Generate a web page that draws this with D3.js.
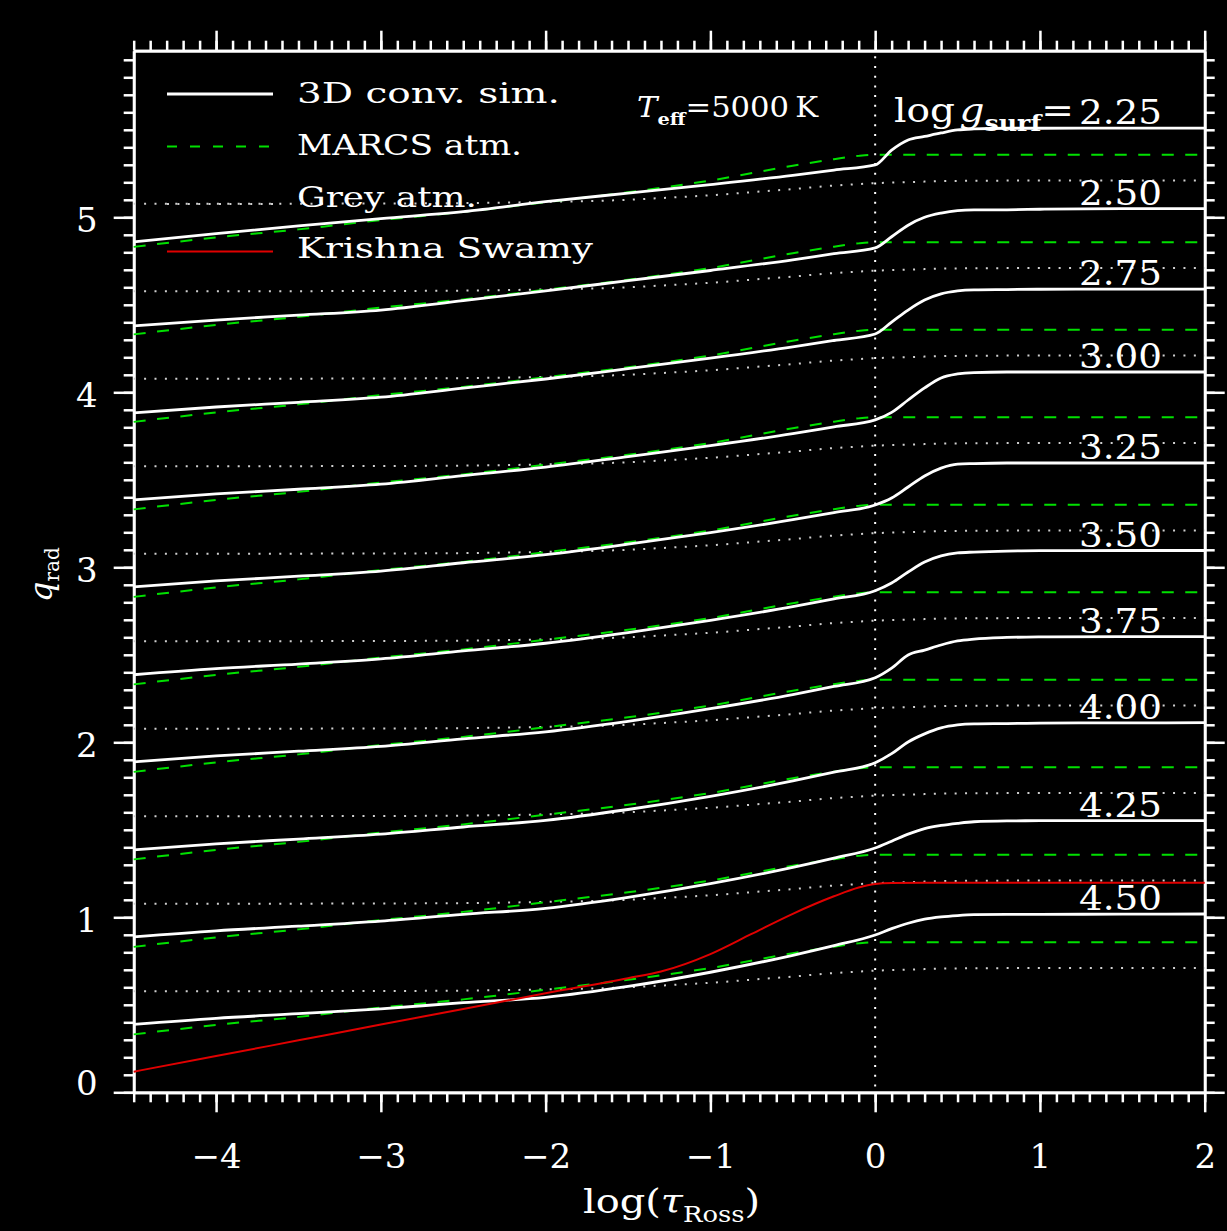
<!DOCTYPE html>
<html>
<head>
<meta charset="utf-8">
<script src="https://cdn.jsdelivr.net/npm/d3@7"></script>
<style>
  body { margin: 0; background: #000; }
  svg { display: block; }
</style>
</head>
<body>
<script>
'use strict';

// log(tau_Ross) grid shared by the 3D curves
const tauSim = [-4.5, -4, -3.5, -3, -2.5, -2, -1.5, -1, -0.5, -0.25, 0, 0.1, 0.2, 0.3, 0.4, 0.5, 0.6, 0.8, 1, 1.5, 2];

// 3D conv. sim. q(tau), before the 0.5 shift between models
const q225 = [0.359, 0.407, 0.451, 0.493, 0.532, 0.589, 0.638, 0.687, 0.740, 0.770, 0.799, 0.884, 0.942, 0.962, 0.982, 0.999, 1.005, 1.009, 1.009, 1.010, 1.010];
const q250 = [0.379, 0.413, 0.441, 0.470, 0.524, 0.579, 0.638, 0.696, 0.757, 0.792, 0.825, 0.889, 0.955, 1.000, 1.024, 1.038, 1.042, 1.043, 1.046, 1.050, 1.050];
const q275 = [0.382, 0.416, 0.443, 0.472, 0.524, 0.576, 0.635, 0.695, 0.760, 0.796, 0.833, 0.901, 0.970, 1.027, 1.062, 1.079, 1.085, 1.087, 1.089, 1.090, 1.090];
const q300 = [0.385, 0.419, 0.446, 0.475, 0.524, 0.573, 0.633, 0.695, 0.764, 0.803, 0.842, 0.885, 0.956, 1.025, 1.082, 1.105, 1.113, 1.116, 1.116, 1.116, 1.116];
const q325 = [0.388, 0.422, 0.449, 0.478, 0.526, 0.572, 0.632, 0.698, 0.772, 0.813, 0.856, 0.896, 0.959, 1.022, 1.067, 1.090, 1.093, 1.096, 1.096, 1.096, 1.096];
const q350 = [0.386, 0.421, 0.447, 0.477, 0.522, 0.566, 0.627, 0.697, 0.775, 0.819, 0.866, 0.910, 0.973, 1.030, 1.065, 1.082, 1.087, 1.093, 1.095, 1.096, 1.096];
const q375 = [0.388, 0.422, 0.449, 0.477, 0.520, 0.560, 0.620, 0.692, 0.773, 0.819, 0.869, 0.924, 0.999, 1.027, 1.056, 1.079, 1.090, 1.099, 1.102, 1.104, 1.104];
const q400 = [0.385, 0.420, 0.447, 0.475, 0.516, 0.554, 0.616, 0.691, 0.779, 0.829, 0.883, 0.935, 1.002, 1.048, 1.082, 1.099, 1.105, 1.107, 1.110, 1.111, 1.112];
const q425 = [0.388, 0.423, 0.449, 0.478, 0.517, 0.551, 0.614, 0.692, 0.785, 0.838, 0.896, 0.935, 0.975, 1.007, 1.025, 1.037, 1.046, 1.051, 1.052, 1.053, 1.053];
const q450 = [0.388, 0.423, 0.449, 0.477, 0.512, 0.543, 0.605, 0.686, 0.783, 0.838, 0.899, 0.935, 0.966, 0.989, 1.002, 1.010, 1.015, 1.017, 1.017, 1.018, 1.019];

// MARCS atm.
const tauMarcs = [-4.5, -4, -3.5, -3, -2.5, -2, -1.5, -1, -0.5, -0.25, -0.1, 0, 0.5, 1, 1.5, 2];
const qMarcs = [0.331, 0.385, 0.431, 0.484, 0.531, 0.586, 0.643, 0.710, 0.795, 0.832, 0.851, 0.857, 0.857, 0.857, 0.857, 0.857];

// grey atm.
const tauGrey = [-4.5, -3, -2.5, -2, -1.5, -1.3, -1, -0.7, -0.5, -0.3, -0.1, 0, 0.2, 0.3, 0.5, 1, 2];
const qGrey = [0.577, 0.579, 0.581, 0.588, 0.600, 0.610, 0.626, 0.647, 0.661, 0.678, 0.690, 0.695, 0.701, 0.704, 0.708, 0.710, 0.710];

// Krishna Swamy (drawn once, not shifted)
const tauKS = [-4.5, -4, -3.5, -3, -2.5, -2, -1.5, -1.3, -1, -0.75, -0.5, -0.25, -0.1, 0, 0.1, 0.3, 2];
const qKS = [0.118, 0.207, 0.297, 0.387, 0.476, 0.566, 0.652, 0.690, 0.790, 0.905, 1.020, 1.120, 1.170, 1.190, 1.196, 1.198, 1.198];

// models, top to bottom
const loggLabels = ["2.25", "2.50", "2.75", "3.00", "3.25", "3.50", "3.75", "4.00", "4.25", "4.50"];
const qShift = [4.5, 4.0, 3.5, 3.0, 2.5, 2.0, 1.5, 1.0, 0.5, 0.0];
const simSeries = [q225, q250, q275, q300, q325, q350, q375, q400, q425, q450];

const xTicks = [-4, -3, -2, -1, 0, 1, 2];
const yTicks = [0, 1, 2, 3, 4, 5];

const FONT = "'DejaVu Serif', serif";

(function () {
  let svg = "";

  window.onload = function () {
    svg = d3.select('body')
      .append('svg')
      .attr('width', 1227)
      .attr('height', 1231)
      .style('background', '#000');

    let map = drawAxes();
    plotData(map);
    makeLegend();
    makeLabels(map);
  }

  // frame, ticks and tick labels
  function drawAxes() {
    let xScale = d3.scaleLinear().domain([-4.5, 2]).range([133.7, 1204.7]);
    let yScale = d3.scaleLinear().domain([0, 5.952]).range([1092.3, 50.7]);

    let xMinor = d3.range(-45, 21).map(i => i / 10);
    let yMinor = d3.range(0, 60).map(i => i / 10);
    let fmt = d3.format('d');

    let bottom = 'translate(0,' + yScale(0) + ')';
    let top = 'translate(0,' + yScale(5.952) + ')';
    let left = 'translate(' + xScale(-4.5) + ',0)';
    let right = 'translate(' + xScale(2) + ',0)';

    let axes = [
      { ax: d3.axisBottom(xScale).tickValues(xTicks).tickSize(20).tickPadding(32).tickFormat(fmt), t: bottom, side: 'x' },
      { ax: d3.axisBottom(xScale).tickValues(xMinor).tickSize(10).tickFormat(''), t: bottom },
      { ax: d3.axisTop(xScale).tickValues(xTicks).tickSize(20).tickFormat(''), t: top },
      { ax: d3.axisTop(xScale).tickValues(xMinor).tickSize(10).tickFormat(''), t: top },
      { ax: d3.axisLeft(yScale).tickValues(yTicks).tickSize(20).tickPadding(16).tickFormat(fmt), t: left, side: 'y' },
      { ax: d3.axisLeft(yScale).tickValues(yMinor).tickSize(10).tickFormat(''), t: left },
      { ax: d3.axisRight(yScale).tickValues(yTicks).tickSize(20).tickFormat(''), t: right },
      { ax: d3.axisRight(yScale).tickValues(yMinor).tickSize(10).tickFormat(''), t: right }
    ];

    axes.forEach(a => {
      let g = svg.append('g')
        .attr('transform', a.t)
        .call(a.ax.tickSizeOuter(0));
      g.select('.domain').attr('stroke', '#fff').attr('stroke-width', 2.7);
      g.selectAll('line').attr('stroke', '#fff').attr('stroke-width', 2.5);
      let txt = g.selectAll('text')
        .attr('fill', '#fff')
        .attr('font-family', FONT)
        .attr('font-size', 34);
      if (a.side === 'y') {
        txt.attr('dy', d => d === 0 ? '0.06em' : '0.42em');
      }
    });

    return { x: xScale, y: yScale };
  }

  function plotData(map) {
    let lineOf = (taus) => d3.line()
      .x((d, i) => map.x(taus[i]))
      .y(d => map.y(d))
      .curve(d3.curveMonotoneX);

    // vertical dotted line at log(tau) = 0
    svg.append('line')
      .attr('x1', map.x(0)).attr('x2', map.x(0))
      .attr('y1', map.y(5.92)).attr('y2', map.y(0))
      .attr('stroke', '#fff')
      .attr('stroke-width', 2)
      .attr('stroke-dasharray', '2,7.7');

    // grey atm.
    qShift.forEach(s => {
      svg.append('path')
        .datum(qGrey.map(v => v + s))
        .attr('d', lineOf(tauGrey))
        .attr('fill', 'none')
        .attr('stroke', '#cfcfcf')
        .attr('stroke-width', 2)
        .attr('stroke-dasharray', '2,8.4');
    });

    // MARCS atm.
    qShift.forEach(s => {
      svg.append('path')
        .datum(qMarcs.map(v => v + s))
        .attr('d', lineOf(tauMarcs))
        .attr('fill', 'none')
        .attr('stroke', '#00e000')
        .attr('stroke-width', 2)
        .attr('stroke-dasharray', '12,11.5');
    });

    // 3D conv. sim.
    simSeries.forEach((q, k) => {
      svg.append('path')
        .datum(q.map(v => v + qShift[k]))
        .attr('d', lineOf(tauSim))
        .attr('fill', 'none')
        .attr('stroke', '#fff')
        .attr('stroke-width', 2.8);
    });

    // Krishna Swamy
    svg.append('path')
      .datum(qKS)
      .attr('d', lineOf(tauKS))
      .attr('fill', 'none')
      .attr('stroke', '#e00000')
      .attr('stroke-width', 2);
  }

  function makeLegend() {
    let items = [
      { name: '3D conv. sim.', color: '#fff', dash: null, w: 2.8, y: 94, base: 103, len: 263 },
      { name: 'MARCS atm.', color: '#00e000', dash: '10,13', w: 2, y: 146.5, base: 155, len: 225 },
      { name: 'Grey atm.', color: '#cfcfcf', dash: '2,8.4', w: 2, y: 204, base: 207, len: 180 },
      { name: 'Krishna Swamy', color: '#e00000', dash: null, w: 2, y: 251.5, base: 258, len: 296 }
    ];
    items.forEach(d => {
      svg.append('line')
        .attr('x1', 167).attr('x2', 273)
        .attr('y1', d.y).attr('y2', d.y)
        .attr('stroke', d.color)
        .attr('stroke-width', d.w)
        .attr('stroke-dasharray', d.dash);
      svg.append('text')
        .attr('x', 297)
        .attr('y', d.base)
        .attr('fill', '#fff')
        .attr('font-family', FONT)
        .attr('font-size', 28)
        .attr('textLength', d.len)
        .attr('lengthAdjust', 'spacingAndGlyphs')
        .text(d.name);
    });
  }

  function makeLabels(map) {
    // model labels above each flat 3D curve
    simSeries.forEach((q, k) => {
      svg.append('text')
        .attr('x', 1162)
        .attr('y', map.y(q[q.length - 1] + qShift[k]) - 4)
        .attr('text-anchor', 'end')
        .attr('fill', '#fff')
        .attr('font-family', FONT)
        .attr('font-size', 34)
        .attr('textLength', 83)
        .attr('lengthAdjust', 'spacingAndGlyphs')
        .text(loggLabels[k]);
    });

    let lg = svg.append('text')
      .attr('x', 894)
      .attr('y', map.y(q225[q225.length - 1] + qShift[0]) - 6)
      .attr('fill', '#fff')
      .attr('font-family', FONT)
      .attr('font-size', 34)
      .attr('textLength', 180)
      .attr('lengthAdjust', 'spacingAndGlyphs');
    lg.append('tspan').text('log');
    lg.append('tspan').attr('font-style', 'italic').attr('dx', 4).text('g');
    lg.append('tspan').attr('font-size', 22).attr('font-weight', 'bold').attr('dy', 9).text('surf');
    lg.append('tspan').attr('dy', -9).text('=');

    // T_eff
    let te = svg.append('text')
      .attr('x', 637)
      .attr('y', 117)
      .attr('fill', '#fff')
      .attr('font-family', FONT)
      .attr('font-size', 27)
      .attr('textLength', 181)
      .attr('lengthAdjust', 'spacingAndGlyphs');
    te.append('tspan').attr('font-style', 'italic').text('T');
    te.append('tspan').attr('font-size', 17).attr('font-weight', 'bold').attr('dy', 8).text('eff');
    te.append('tspan').attr('dy', -8).text('=5000\u2009K');

    // x axis title
    let xt = svg.append('text')
      .attr('x', 583)
      .attr('y', 1213)
      .attr('fill', '#fff')
      .attr('font-family', FONT)
      .attr('font-size', 34)
      .attr('textLength', 177)
      .attr('lengthAdjust', 'spacingAndGlyphs');
    xt.append('tspan').text('log(');
    xt.append('tspan').attr('font-style', 'italic').text('\u03c4');
    xt.append('tspan').attr('font-size', 22).attr('dy', 9).text('Ross');
    xt.append('tspan').attr('dy', -9).text(')');

    // y axis title
    let yt = svg.append('text')
      .attr('transform', 'translate(52, 602)rotate(-90)')
      .attr('fill', '#fff')
      .attr('font-family', FONT)
      .attr('font-size', 32);
    yt.append('tspan').attr('font-style', 'italic').text('q');
    yt.append('tspan').attr('font-size', 20).attr('dy', 7).text('rad');
  }
})();
</script>
</body>
</html>
